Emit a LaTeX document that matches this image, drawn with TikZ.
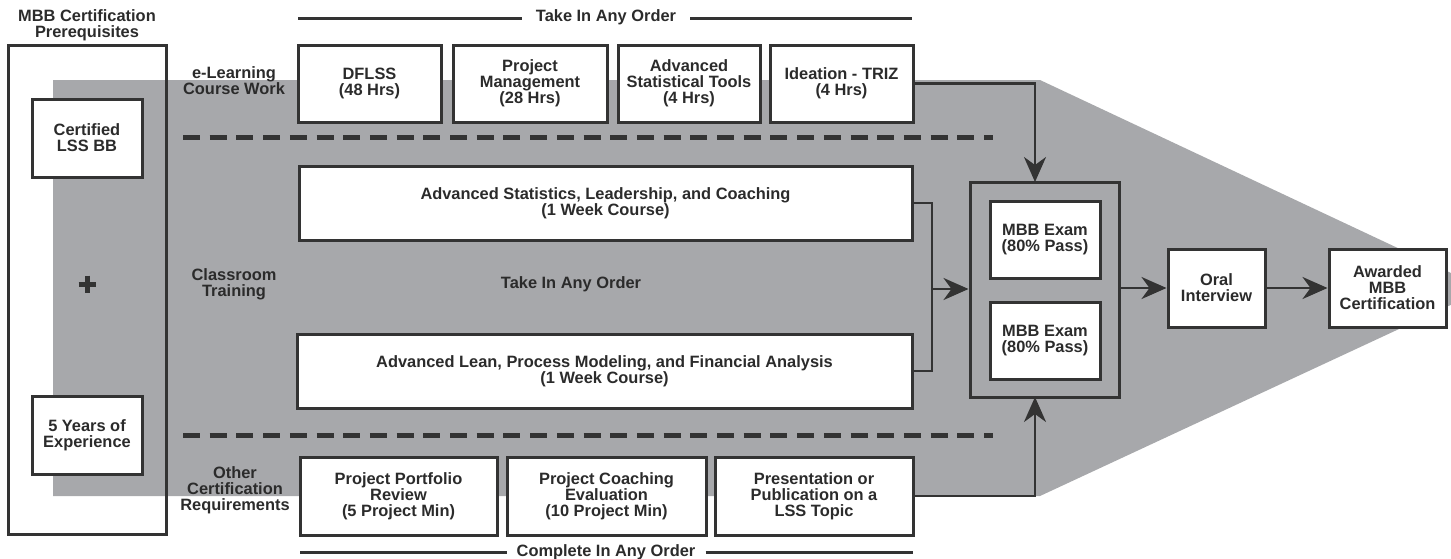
\documentclass[tikz,border=0pt]{standalone}
\usepackage{fontspec}
\setmainfont{Liberation Sans}
\usetikzlibrary{arrows.meta}
\definecolor{ink}{HTML}{333333}
\definecolor{txt}{HTML}{2B2B2B}
\definecolor{band}{HTML}{A7A8AB}
\begin{document}
\begin{tikzpicture}[x=1pt,y=-1pt,
  every node/.style={font=\fontsize{16.4}{16}\selectfont\bfseries, text=txt, align=center},
  box/.style={draw=ink, line width=3pt, fill=white, inner sep=0pt},
  conn/.style={draw=ink, line width=2.6pt},
  arr/.style={conn, -{Stealth[length=25pt,width=22pt,inset=8pt]}},
  rulel/.style={draw=ink, line width=3pt},
  sepline/.style={draw=ink, line width=5pt, dash pattern=on 17pt off 9.7pt},
  lbl/.style={inner sep=0pt}]
\useasboundingbox (0,0) rectangle (1451,558);
% gray band
\fill[band] (53,80) -- (1040,80) -- (1485,289) -- (1040,496) -- (53,496) -- cycle;
% prerequisites
\node[lbl] (pretitle) at (87,25) {MBB Certification\\Prerequisites};
\draw[draw=ink, line width=3pt] (8,45) rectangle (166,534);
\node[box, minimum width=110pt, minimum height=78pt] (cert) at (87,138) {Certified\\LSS BB};
\node[box, minimum width=110pt, minimum height=78pt] (years) at (87,435) {5 Years of\\Experience};
\draw[draw=ink, line width=5pt] (78.5,284) -- (95.5,284) (87,275.5) -- (87,292.5);
% row labels
\node[lbl] (elearn) at (234,81) {e-Learning\\Course Work};
\node[lbl] (classroom) at (234,284) {Classroom\\Training};
\node[lbl] (other) at (235,490) {Other\\Certification\\Requirements};
% top title rule
\node[lbl, inner xsep=14pt] (toptitle) at (606,17) {Take In Any Order};
\coordinate (tl) at (298,18);
\coordinate (tr) at (912,18);
\draw[rulel] (tl) -- (tl -| toptitle.west);
\draw[rulel] (tr -| toptitle.east) -- (tr);
% top boxes
\node[box, minimum width=143pt, minimum height=77pt] (dflss) at (369.5,83.5) {DFLSS\\(48 Hrs)};
\node[box, minimum width=154pt, minimum height=77pt] (pm) at (530,83.5) {Project\\Management\\(28 Hrs)};
\node[box, minimum width=142pt, minimum height=77pt] (ast) at (689,83.5) {Advanced\\Statistical Tools\\(4 Hrs)};
\node[box, minimum width=143pt, minimum height=77pt] (triz) at (841.5,83.5) {Ideation - TRIZ\\(4 Hrs)};
% separators
\coordinate (s1a) at (183,137);
\coordinate (s1b) at (993,137);
\coordinate (s2a) at (183,435);
\coordinate (s2b) at (993,435);
\draw[sepline] (s1a) -- (s1b);
\draw[sepline] (s2a) -- (s2b);
% classroom boxes
\node[box, minimum width=613pt, minimum height=74pt] (advstat) at (605.5,203) {Advanced Statistics, Leadership, and Coaching\\(1 Week Course)};
\node[lbl] (midorder) at (571,284) {Take In Any Order};
\node[box, minimum width=615pt, minimum height=74pt] (advlean) at (604.5,371) {Advanced Lean, Process Modeling, and Financial Analysis\\(1 Week Course)};
% bottom boxes
\node[box, minimum width=197pt, minimum height=78pt] (ppr) at (398.5,496) {Project Portfolio\\Review\\(5 Project Min)};
\node[box, minimum width=199pt, minimum height=78pt] (pce) at (606.5,496) {Project Coaching\\Evaluation\\(10 Project Min)};
\node[box, minimum width=198pt, minimum height=78pt] (pres) at (814,496) {Presentation or\\Publication on a\\LSS Topic};
% bottom title rule
\node[lbl, inner xsep=10pt] (bottitle) at (606,552) {Complete In Any Order};
\coordinate (bl) at (300,552);
\coordinate (br) at (913,552);
\draw[rulel] (bl) -- (bottitle.west);
\draw[rulel] (bottitle.east) -- (br);
% exam
\node[draw=ink, line width=3pt, minimum width=149pt, minimum height=215pt, inner sep=0pt] (examouter) at (1044.5,289.5) {};
\node[box, minimum width=110pt, minimum height=77pt] (exam1) at (1045,239.5) {MBB Exam\\(80\% Pass)};
\node[box, minimum width=110pt, minimum height=77pt] (exam2) at (1045,340.5) {MBB Exam\\(80\% Pass)};
\node[box, minimum width=97pt, minimum height=78pt] (oral) at (1216.5,288) {Oral\\Interview};
\node[box, minimum width=117pt, minimum height=78pt] (award) at (1387.5,288) {Awarded\\MBB\\Certification};
% connectors
\coordinate (topin) at (1035,182);
\coordinate (botin) at (1035,397);
\coordinate (mj) at (932,289);
\draw[arr] (triz.east) -| (topin);
\draw[arr] (pres.east) -| (botin);
\draw[conn] (advstat.east) -| (mj) |- (advlean.east);
\draw[arr] (mj) -- (mj -| examouter.west);
\draw[arr] (examouter.east |- oral.west) -- (oral.west);
\draw[arr] (oral.east) -- (award.west);
\end{tikzpicture}
\end{document}
